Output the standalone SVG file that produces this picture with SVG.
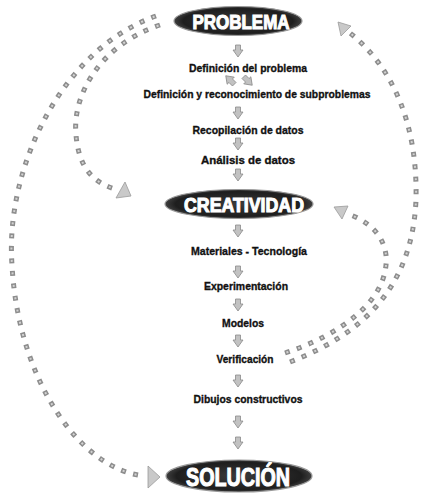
<svg xmlns="http://www.w3.org/2000/svg" width="421" height="493" viewBox="0 0 421 493">
<style>
.lbl{font-family:"Liberation Sans",Arial,sans-serif;font-weight:bold;font-size:11.5px;fill:#111111;stroke:#111111;stroke-width:0.35;text-anchor:middle}
.big{font-family:"Liberation Sans",Arial,sans-serif;font-weight:bold;fill:#ffffff;stroke:#ffffff;stroke-width:1.1;text-anchor:middle}
.oval{fill:url(#ovalGrad);stroke:#9a9a9a;stroke-width:1.2}
.dots{fill:none;stroke:#8d8d8d;stroke-width:5;stroke-dasharray:5 7.5}
.dotsIn{fill:none;stroke:#d2d2d2;stroke-width:2;stroke-dasharray:2 10.5;stroke-dashoffset:-1.5}
.head{fill:#c9c9c9;stroke:#9a9a9a;stroke-width:0.8}
.sarrow{fill:#c2c2c2;stroke:#8a8a8a;stroke-width:0.8}
</style>
<defs>
<radialGradient id="ovalGrad" cx="50%" cy="50%" r="55%">
<stop offset="0" stop-color="#3a3a3a"/>
<stop offset="0.78" stop-color="#1e1e1e"/>
<stop offset="1" stop-color="#555555"/>
</radialGradient>
<path id="da" d="M-2.5,-6 H2.5 V-1 H5 L0,6 L-5,-1 H-2.5 Z"/>
</defs>
<rect width="421" height="493" fill="#ffffff"/>

<g id="connectors">
<path class="dots" d="M156,16 C60,50 5,170 12,265 C18,380 80,470 145,476"/>
<path class="dotsIn" d="M156,16 C60,50 5,170 12,265 C18,380 80,470 145,476"/>
<polygon class="head" points="160,477 148,466 148,488"/>

<path class="dots" d="M160,25 C100,45 72,95 76,135 C79,170 95,183 115,189"/>
<path class="dotsIn" d="M160,25 C100,45 72,95 76,135 C79,170 95,183 115,189"/>
<polygon class="head" points="131,196 116,198 125,182"/>

<path class="dots" d="M290,362 C360,335 412,290 416,200 C418,120 390,65 350,33"/>
<path class="dotsIn" d="M290,362 C360,335 412,290 416,200 C418,120 390,65 350,33"/>
<polygon class="head" points="338,22 351,26 341,36"/>

<path class="dots" d="M285,353 C340,335 390,300 386,255 C383,232 365,220 348,214"/>
<path class="dotsIn" d="M285,353 C340,335 390,300 386,255 C383,232 365,220 348,214"/>
<polygon class="head" points="334,207 348,206 342,219"/>

<use href="#da" class="sarrow" x="238" y="51"/>
<use href="#da" class="sarrow" transform="translate(230,80) rotate(135)"/>
<use href="#da" class="sarrow" transform="translate(248,81) rotate(-45)"/>
<use href="#da" class="sarrow" x="238" y="113"/>
<use href="#da" class="sarrow" x="238" y="144"/>
<use href="#da" class="sarrow" x="238" y="175"/>
<use href="#da" class="sarrow" x="238" y="231"/>
<use href="#da" class="sarrow" x="238" y="272"/>
<use href="#da" class="sarrow" x="238" y="305"/>
<use href="#da" class="sarrow" x="238" y="341"/>
<use href="#da" class="sarrow" x="238" y="381"/>
<use href="#da" class="sarrow" x="238" y="422"/>
<use href="#da" class="sarrow" x="238" y="443"/>
</g>

<g id="problema">
<ellipse class="oval" cx="238" cy="21" rx="64" ry="14.5"/>
<text class="big" x="241" y="28.5" font-size="20" textLength="97" lengthAdjust="spacingAndGlyphs">PROBLEMA</text>
</g>
<g id="definicion-problema"><text class="lbl" x="248" y="72" textLength="118" lengthAdjust="spacingAndGlyphs">Definición del problema</text></g>
<g id="subproblemas"><text class="lbl" x="257" y="98" textLength="227" lengthAdjust="spacingAndGlyphs">Definición y reconocimiento de subproblemas</text></g>
<g id="recopilacion"><text class="lbl" x="248" y="134" textLength="111" lengthAdjust="spacingAndGlyphs">Recopilación de datos</text></g>
<g id="analisis"><text class="lbl" x="248" y="164" textLength="94" lengthAdjust="spacingAndGlyphs">Análisis de datos</text></g>
<g id="creatividad">
<ellipse class="oval" cx="239" cy="204" rx="74" ry="14.5"/>
<text class="big" x="244" y="211.5" font-size="20" textLength="120" lengthAdjust="spacingAndGlyphs">CREATIVIDAD</text>
</g>
<g id="materiales"><text class="lbl" x="249" y="255" textLength="116" lengthAdjust="spacingAndGlyphs">Materiales - Tecnología</text></g>
<g id="experimentacion"><text class="lbl" x="246" y="290" textLength="84" lengthAdjust="spacingAndGlyphs">Experimentación</text></g>
<g id="modelos"><text class="lbl" x="243" y="327" textLength="42" lengthAdjust="spacingAndGlyphs">Modelos</text></g>
<g id="verificacion"><text class="lbl" x="245" y="363" textLength="57" lengthAdjust="spacingAndGlyphs">Verificación</text></g>
<g id="dibujos"><text class="lbl" x="248" y="403" textLength="109" lengthAdjust="spacingAndGlyphs">Dibujos constructivos</text></g>
<g id="solucion">
<ellipse class="oval" cx="239" cy="476" rx="73" ry="16"/>
<text class="big" x="238" y="485.5" font-size="25" textLength="104" lengthAdjust="spacingAndGlyphs">SOLUCIÓN</text>
</g>
</svg>
